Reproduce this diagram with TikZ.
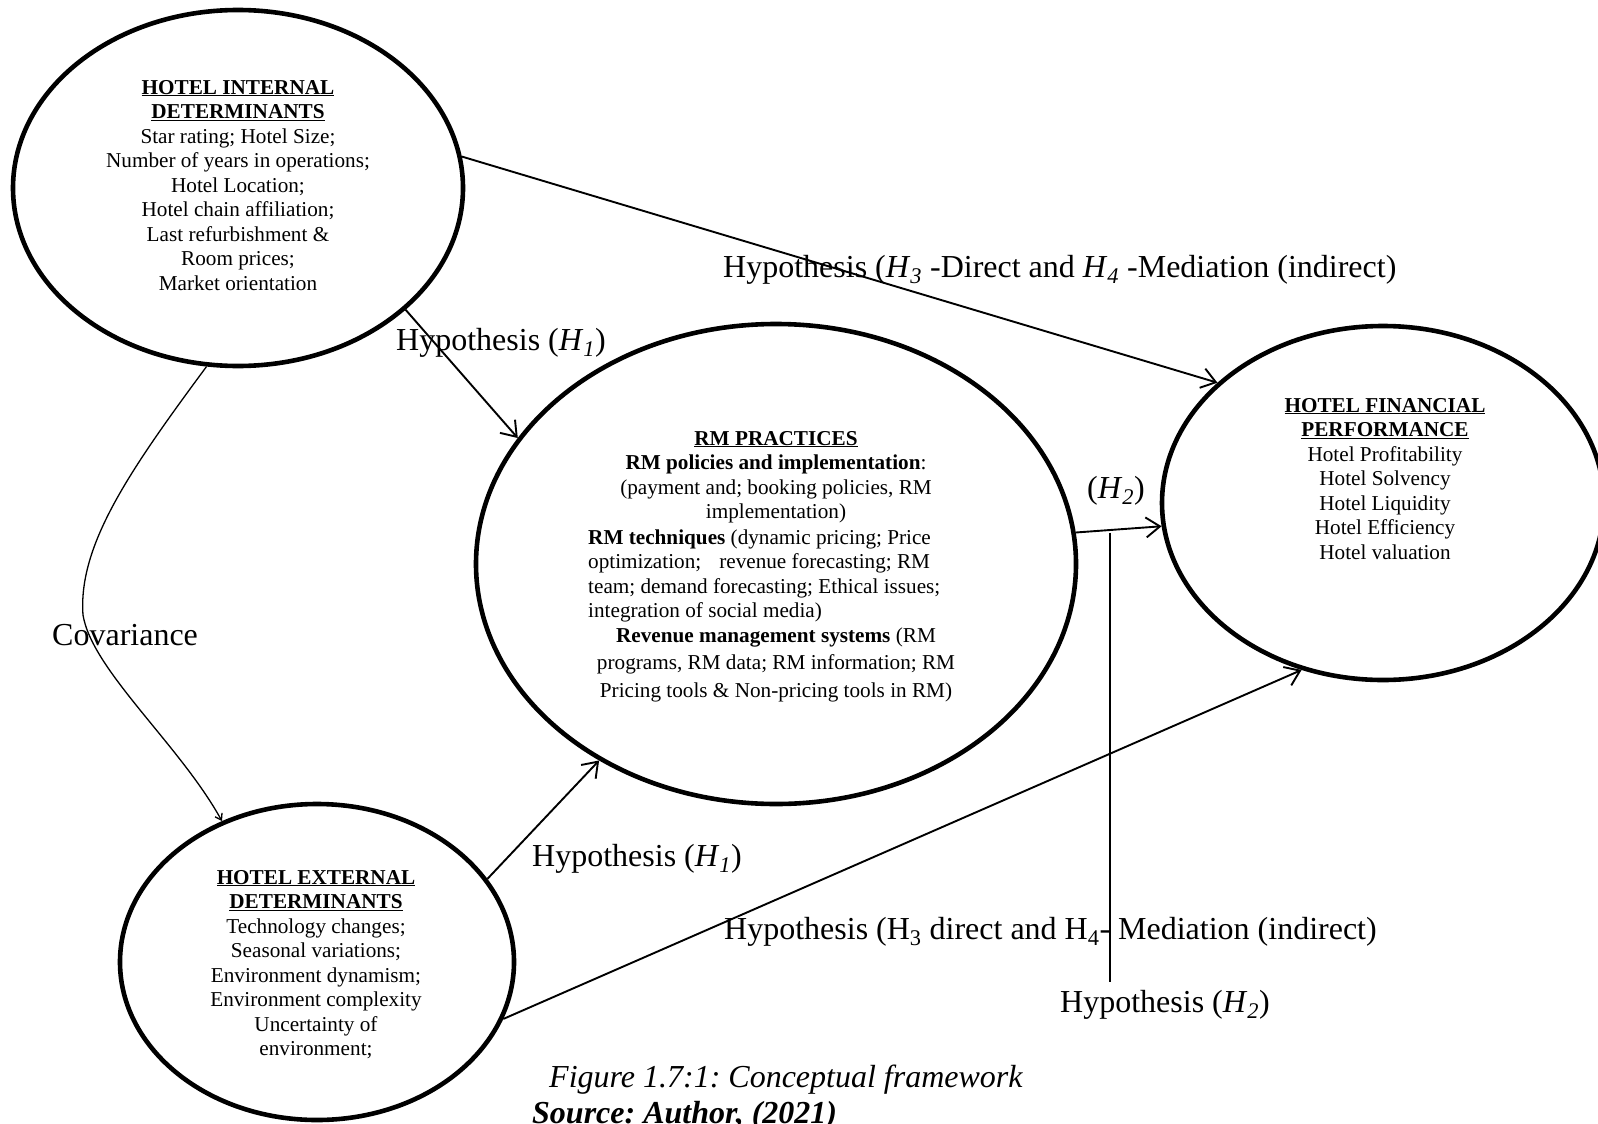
\documentclass[tikz,border=0pt]{standalone}
\usepackage{fontspec}
\setmainfont{Liberation Serif}
\usetikzlibrary{arrows.meta,shapes.geometric}
\frenchspacing

\newcommand{\hyp}[1]{\textit{H}\textsubscript{\textit{#1}}}
\newcommand{\hdr}[1]{\underline{\textbf{#1}}}

\tikzset{
  construct/.style={draw, ellipse, line width=4.6pt, inner sep=0pt},
  body/.style={font=\fontsize{21.2}{24.5}\selectfont, inner sep=0pt},
  biglabel/.style={font=\fontsize{32}{36}\selectfont, inner sep=0pt, anchor=base west},
  link/.style={line width=1.9pt, -{Straight Barb[length=14pt,width=20pt]}},
  covlink/.style={line width=1.3pt, -{Straight Barb[length=6pt,width=8pt]}},
  plainlink/.style={line width=1.5pt}
}

\begin{document}
\begin{tikzpicture}[x=1pt,y=1pt]
\path[use as bounding box, fill=white] (0,0) rectangle (1598,-1124);

% the four constructs
\node[construct, minimum width=450pt, minimum height=356pt] (internal) at (238,-188) {};
\node[construct, minimum width=600pt, minimum height=480pt] (rm) at (776,-564) {};
\node[construct, minimum width=442pt, minimum height=354pt] (financial) at (1383,-503) {};
\node[construct, minimum width=394pt, minimum height=316pt] (external) at (317,-962) {};

% contents of the constructs
\node[body, anchor=base] (internaltext) at (238,-94) {\begin{tabular}[t]{@{}c@{}}
\hdr{HOTEL INTERNAL}\\
\hdr{DETERMINANTS}\\
Star rating; Hotel Size;\\
Number of years in operations;\\
Hotel Location;\\
Hotel chain affiliation;\\
Last refurbishment \&\\
Room prices;\\
Market orientation
\end{tabular}};

\node[body, anchor=base] (rmhead) at (776,-445) {\begin{tabular}[t]{@{}c@{}}
\hdr{RM PRACTICES}\\
\textbf{RM policies and implementation}:\\
(payment and; booking policies, RM\\
implementation)
\end{tabular}};

\node[body, anchor=base west] (rmtech) at (588,-544) {\begin{tabular}[t]{@{}l@{}}
\textbf{RM techniques} (dynamic pricing; Price\\
optimization;\hspace{0.6em} revenue forecasting; RM\\
team; demand forecasting; Ethical issues;\\
integration of social media)
\end{tabular}};

\node[body, anchor=base] (rmsys) at (776,-642) {\begin{tabular}[t]{@{}c@{}}
\textbf{Revenue management systems} (RM\\[3pt]
programs, RM data; RM information; RM\\[3pt]
Pricing tools \& Non-pricing tools in RM)
\end{tabular}};

\node[body, anchor=base] (financialtext) at (1385,-412) {\begin{tabular}[t]{@{}c@{}}
\hdr{HOTEL FINANCIAL}\\
\hdr{PERFORMANCE}\\
Hotel Profitability\\
Hotel Solvency\\
Hotel Liquidity\\
Hotel Efficiency\\
Hotel valuation
\end{tabular}};

\node[body, anchor=base] (externaltext) at (316,-884) {\begin{tabular}[t]{@{}c@{}}
\hdr{HOTEL EXTERNAL}\\
\hdr{DETERMINANTS}\\
Technology changes;\\
Seasonal variations;\\
Environment dynamism;\\
Environment complexity\\
Uncertainty of\\
environment;
\end{tabular}};

% path labels
\node[biglabel] (h34up) at (723,-277) {Hypothesis (\hyp{3} -Direct and \hyp{4} -Mediation (indirect)};
\node[biglabel] (h1up) at (396,-350) {Hypothesis (\hyp{1})};
\node[biglabel] (h1low) at (532,-866) {Hypothesis (\hyp{1})};
\node[biglabel] (h2near) at (1087,-498) {(\hyp{2})};
\node[biglabel] (cov) at (52,-645) {Covariance};
\node[biglabel] (h34low) at (724,-939) {Hypothesis (H\textsubscript{3} direct and H\textsubscript{4}- Mediation (indirect)};
\node[biglabel] (h2low) at (1060,-1012) {Hypothesis (\hyp{2})};

% caption
\node[biglabel, font=\fontsize{32}{36}\selectfont\itshape] (caption) at (549,-1087) {Figure 1.7:1: Conceptual framework};
\node[biglabel, font=\fontsize{32}{36}\selectfont\bfseries\itshape] (source) at (532,-1123) {Source: Author, (2021)};

% structural paths
\draw[link] (internal.8.4) -- (financial.144.5);
\draw[link] (internal.-36.3) -- (rm.154);
\draw[link] (external.26.3) -- (rm.228.6);
\draw[link] (external.-17.6) -- (financial.244.6);
\draw[link] (rm.6.7) -- (financial.186.4);

% stem to the H2 label
\coordinate (h2foot) at (1110,-982);
\draw[plainlink] (h2foot |- rm.6.7) -- (h2foot);

% covariance between the determinants
\coordinate (covbend) at (83,-615);
\draw[covlink] (internal.260.6) .. controls (130,-470) and (78,-545) .. (covbend)
  .. controls (92,-670) and (180,-745) .. (external.124.3);
\end{tikzpicture}
\end{document}
